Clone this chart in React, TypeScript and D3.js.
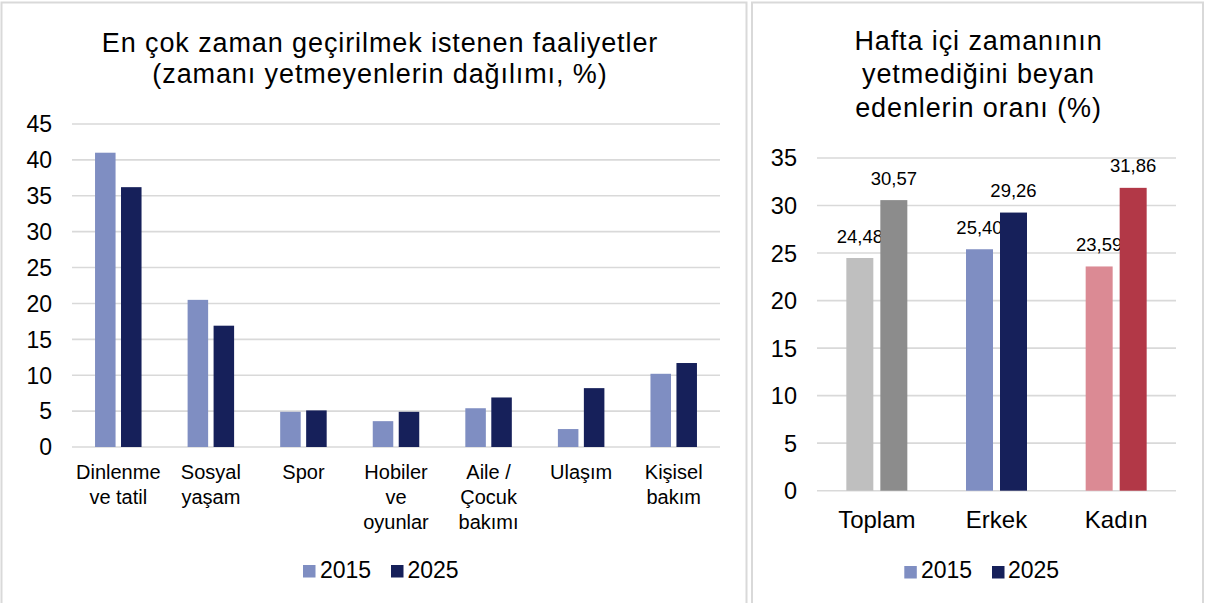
import React from 'react';
import * as d3 from 'd3';

// chart 1: activities people want more time for
const ACTIVITIES = ['Dinlenme ve tatil', 'Sosyal yaşam', 'Spor', 'Hobiler ve oyunlar', 'Aile / Çocuk bakımı', 'Ulaşım', 'Kişisel bakım'];
const ACTIVITY_LINES = [['Dinlenme', 've tatil'], ['Sosyal', 'yaşam'], ['Spor'], ['Hobiler', 've', 'oyunlar'], ['Aile /', 'Çocuk', 'bakımı'], ['Ulaşım'], ['Kişisel', 'bakım']];
const ACT_2015 = [41.0, 20.5, 4.9, 3.6, 5.4, 2.5, 10.2];
const ACT_2025 = [36.2, 16.9, 5.1, 4.9, 6.9, 8.2, 11.7];
const LEFT_TICKS = [0, 5, 10, 15, 20, 25, 30, 35, 40, 45];

// chart 2: share saying weekday time is not enough
const GROUPS = ['Toplam', 'Erkek', 'Kadın'];
const SHARE_2015 = [24.48, 25.40, 23.59];
const SHARE_2025 = [30.57, 29.26, 31.86];
const RIGHT_TICKS = [0, 5, 10, 15, 20, 25, 30, 35];

const YEARS = ['2015', '2025'];
const BLUE = ['#7F8EC2', '#16205A'];
const GROUP_COLORS = [['#BFBFBF', '#8C8C8C'], ['#7F8EC2', '#16205A'], ['#DB8A94', '#B23847']];

const FONT = '"Liberation Sans", Arial, sans-serif';
const GRID = '#D9D9D9';

const fmt = d3.formatLocale({ decimal: ',', thousands: '.', grouping: [3], currency: ['', ''] }).format('.2f');

const left = { x0: 72, x1: 720, yTop: 124, yBottom: 447 };
const right = { x0: 817, x1: 1176, yTop: 158, yBottom: 490.7 };

const App = () => {
    // left scales
    const lx = d3.scaleBand<string>().domain(ACTIVITIES).range([left.x0, left.x1]);
    const lInner = d3.scaleBand<string>().domain(YEARS)
        .range([lx.bandwidth() / 2 - 23.25, lx.bandwidth() / 2 + 23.25]).paddingInner(0.21);
    const ly = d3.scaleLinear().domain([0, 45]).range([left.yBottom, left.yTop]);
    const leftSeries = [ACT_2015, ACT_2025];

    // right scales
    const rx = d3.scaleBand<string>().domain(GROUPS).range([right.x0, right.x1]);
    const rInner = d3.scaleBand<string>().domain(YEARS)
        .range([rx.bandwidth() / 2 - 30.5, rx.bandwidth() / 2 + 30.5]).paddingInner(0.206);
    const ry = d3.scaleLinear().domain([0, 35]).range([right.yBottom, right.yTop]);
    const rightSeries = [SHARE_2015, SHARE_2025];

    const titleStyle = { fontSize: 27, letterSpacing: 0.9 };

    return (
        <svg width={1206} height={603} style={{ position: 'absolute', left: 0, top: 0, background: '#fff' }}
            fontFamily={FONT}>
            {/* panel borders */}
            <rect x={1.5} y={2.5} width={745} height={620} fill="none" stroke={GRID} strokeWidth={2} />
            <rect x={752} y={2.5} width={451} height={620} fill="none" stroke={GRID} strokeWidth={2} />

            {/* left title */}
            <text x={380} y={51.5} textAnchor="middle" style={titleStyle} fill="#000">En çok zaman geçirilmek istenen faaliyetler</text>
            <text x={380} y={83} textAnchor="middle" style={titleStyle} fill="#000">(zamanı yetmeyenlerin dağılımı, %)</text>

            {/* left grid + ticks */}
            {LEFT_TICKS.map(t => (
                <g key={'lt' + t}>
                    <line x1={left.x0} x2={left.x1} y1={ly(t)} y2={ly(t)} stroke={GRID} strokeWidth={1.6} />
                    <text x={52} y={ly(t)} dy="0.36em" textAnchor="end" fontSize={23} fill="#000">{t}</text>
                </g>
            ))}

            {/* left bars */}
            {leftSeries.map((vals, si) => (
                <g key={'ls' + si}>
                    {vals.map((v, i) => (
                        <rect key={i}
                            x={(lx(ACTIVITIES[i]) as number) + (lInner(YEARS[si]) as number)}
                            y={ly(v)}
                            width={lInner.bandwidth()}
                            height={ly(0) - ly(v)}
                            fill={BLUE[si]} />
                    ))}
                </g>
            ))}

            {/* left category labels */}
            {ACTIVITY_LINES.map((lines, i) => (
                <text key={'lc' + i} x={(lx(ACTIVITIES[i]) as number) + lx.bandwidth() / 2} y={479.3}
                    textAnchor="middle" fontSize={20} fill="#000">
                    {lines.map((l, j) => (
                        <tspan key={j} x={(lx(ACTIVITIES[i]) as number) + lx.bandwidth() / 2} dy={j === 0 ? 0 : 25}>{l}</tspan>
                    ))}
                </text>
            ))}

            {/* left legend */}
            <rect x={303} y={565} width={12.5} height={12.5} fill={BLUE[0]} />
            <text x={320} y={577.7} fontSize={23} fill="#000">{YEARS[0]}</text>
            <rect x={391} y={565} width={12.5} height={12.5} fill={BLUE[1]} />
            <text x={407.5} y={577.7} fontSize={23} fill="#000">{YEARS[1]}</text>

            {/* right title */}
            <text x={978.5} y={50} textAnchor="middle" style={titleStyle} fill="#000">Hafta içi zamanının</text>
            <text x={978.5} y={83} textAnchor="middle" style={titleStyle} fill="#000">yetmediğini beyan</text>
            <text x={978.5} y={116.5} textAnchor="middle" style={titleStyle} fill="#000">edenlerin oranı (%)</text>

            {/* right grid + ticks */}
            {RIGHT_TICKS.map(t => (
                <g key={'rt' + t}>
                    <line x1={right.x0} x2={right.x1} y1={ry(t)} y2={ry(t)} stroke={GRID} strokeWidth={1.6} />
                    <text x={797} y={ry(t)} dy="0.36em" textAnchor="end" fontSize={23.5} fill="#000">{t}</text>
                </g>
            ))}

            {/* right bars + value labels */}
            {rightSeries.map((vals, si) => (
                <g key={'rs' + si}>
                    {vals.map((v, i) => {
                        const bx = (rx(GROUPS[i]) as number) + (rInner(YEARS[si]) as number);
                        return (
                            <g key={i}>
                                <rect x={bx} y={ry(v)} width={rInner.bandwidth()} height={ry(0) - ry(v)}
                                    fill={GROUP_COLORS[i][si]} />
                                <text x={bx + rInner.bandwidth() / 2} y={ry(v) - 15.5} textAnchor="middle"
                                    fontSize={18.5} fill="#000">{fmt(v)}</text>
                            </g>
                        );
                    })}
                </g>
            ))}

            {/* right category labels */}
            {GROUPS.map(g => (
                <text key={'rc' + g} x={(rx(g) as number) + rx.bandwidth() / 2} y={527.7}
                    textAnchor="middle" fontSize={24} fill="#000">{g}</text>
            ))}

            {/* right legend */}
            <rect x={904.3} y={566} width={12.5} height={12.5} fill={BLUE[0]} />
            <text x={921} y={578.3} fontSize={23} fill="#000">{YEARS[0]}</text>
            <rect x={992} y={566} width={12.5} height={12.5} fill={BLUE[1]} />
            <text x={1008} y={578.3} fontSize={23} fill="#000">{YEARS[1]}</text>
        </svg>
    );
};

export default App;
